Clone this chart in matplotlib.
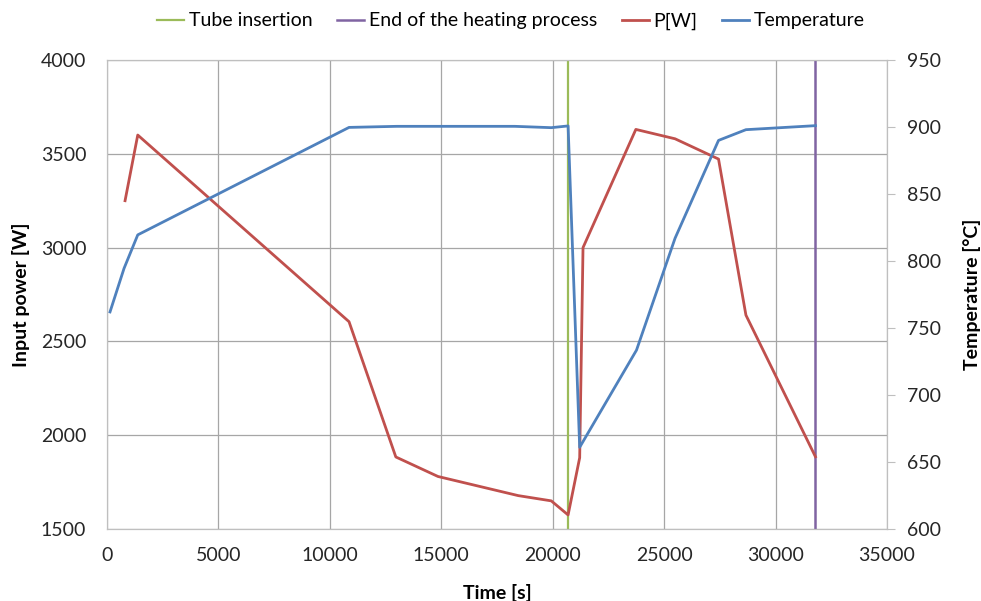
import numpy as np
import matplotlib
matplotlib.use('Agg')
import matplotlib.pyplot as plt

plt.rcParams['font.family'] = ['Lato', 'DejaVu Sans']

# Measured heating run
power_time = [810, 1380, 10860, 12960, 14850, 18450, 19935, 20690, 21210, 21360, 23730, 25490, 27440, 28670, 31790]
power_w = [3250, 3600, 2605, 1884, 1780, 1678, 1650, 1575, 1880, 3000, 3630, 3580, 3472, 2640, 1885]

temp_time = [135, 765, 1380, 10860, 13000, 15000, 18300, 19935, 20690, 21210, 23760, 25490, 27440, 28670, 31790]
temp_c = [762, 794.5, 819.5, 899.7, 900.5, 900.5, 900.5, 899.5, 900.8, 661, 733.5, 817, 890, 898, 901]

tube_insertion = 20690
heating_end = 31790

red = '#c0504d'
blue = '#4f81bd'
green = '#9bbb59'
purple = '#8064a2'
grid_c = '#a6a6a6'

fig = plt.figure(figsize=(9.81, 6.01), dpi=100)
ax = fig.add_axes([107 / 981, 72 / 601, 780 / 981, 469 / 601])
ax2 = ax.twinx()

l_tube = ax.axvline(tube_insertion, color=green, lw=1.6, label='Tube insertion')
l_end = ax.axvline(heating_end, color=purple, lw=1.8, label='End of the heating process')
l_pow, = ax.plot(power_time, power_w, color=red, lw=2.0, label='P[W]')
l_temp, = ax2.plot(temp_time, temp_c, color=blue, lw=2.0, label='Temperature')

ax.set_xlim(0, 35000)
ax.set_ylim(1500, 4000)
ax2.set_ylim(600, 950)
ax.set_xticks(np.arange(0, 35001, 5000))
ax.set_yticks(np.arange(1500, 4001, 500))
ax2.set_yticks(np.arange(600, 951, 50))

ax.grid(True, color=grid_c, lw=0.9)
ax.set_axisbelow(True)
for a in (ax, ax2):
    for s in a.spines.values():
        s.set_color('#bfbfbf')
ax.tick_params(axis='y', length=0, labelsize=14, colors='#262626', pad=15)
ax.tick_params(axis='x', length=0, labelsize=14, colors='#262626', pad=13)
ax2.tick_params(axis='y', length=5.5, width=0.8, color='#bfbfbf', labelsize=14,
                labelcolor='#262626', pad=9)

ax.set_xlabel('Time [s]', fontsize=14, fontweight='bold', labelpad=14)
ax.set_ylabel('Input power [W]', fontsize=14, fontweight='bold', labelpad=8)
ax2.set_ylabel('Temperature [°C]', fontsize=14, fontweight='bold', labelpad=16)

fig.legend(handles=[l_tube, l_end, l_pow, l_temp], loc='center', bbox_to_anchor=(511 / 981, 1 - 21 / 601),
           ncol=4, frameon=False, fontsize=14, handlelength=1.4, handletextpad=0.25, columnspacing=1.25)

fig.savefig('out.png', dpi=100)
